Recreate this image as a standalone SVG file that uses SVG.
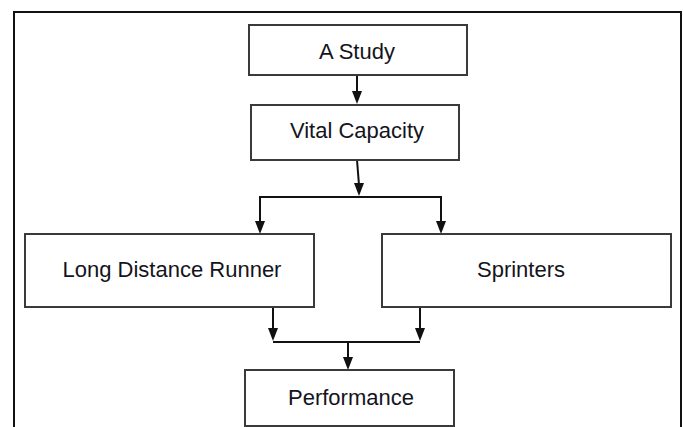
<svg xmlns="http://www.w3.org/2000/svg" width="683" height="427" viewBox="0 0 683 427">
<style>
.box{fill:#fff;stroke:#3a3a3a;stroke-width:2}
.lbl{font-family:"Liberation Sans",Arial,sans-serif;font-size:22px;fill:#141420;text-anchor:middle}
.ln{fill:none;stroke:#111;stroke-width:2}
.ah{fill:#111}
</style>
<rect x="0" y="0" width="683" height="427" fill="#fff"/>
<rect x="14" y="12" width="667" height="440" fill="none" stroke="#111" stroke-width="2"/>
<g id="connectors">
<line class="ln" x1="357" y1="75" x2="357" y2="92"/>
<polygon class="ah" points="352,91 362,91 357,104"/>
<line class="ln" x1="357" y1="160" x2="359" y2="185"/>
<polygon class="ah" points="354,183 364,183 359,196"/>
<polyline class="ln" points="260,222 260,197 441,197 441,222"/>
<polygon class="ah" points="255,221 265,221 260,234"/>
<polygon class="ah" points="436,221 446,221 441,234"/>
<line class="ln" x1="273" y1="307" x2="273" y2="330"/>
<polygon class="ah" points="268,328 278,328 273,341"/>
<line class="ln" x1="420" y1="307" x2="420" y2="330"/>
<polygon class="ah" points="415,328 425,328 420,341"/>
<line class="ln" x1="273" y1="342" x2="420" y2="342"/>
<line class="ln" x1="348" y1="342" x2="348" y2="358"/>
<polygon class="ah" points="343,357 353,357 348,370"/>
</g>
<g id="study"><rect class="box" x="249" y="25" width="218" height="50"/><text class="lbl" x="357" y="59">A Study</text></g>
<g id="vital"><rect class="box" x="251" y="105" width="208" height="55"/><text class="lbl" x="357" y="138">Vital Capacity</text></g>
<g id="ldr"><rect class="box" x="25" y="234" width="289" height="73"/><text class="lbl" x="172" y="277">Long Distance Runner</text></g>
<g id="sprinters"><rect class="box" x="382" y="234" width="289" height="73"/><text class="lbl" x="521" y="277">Sprinters</text></g>
<g id="performance"><rect class="box" x="245" y="370" width="209" height="56"/><text class="lbl" x="351" y="405">Performance</text></g>
</svg>
